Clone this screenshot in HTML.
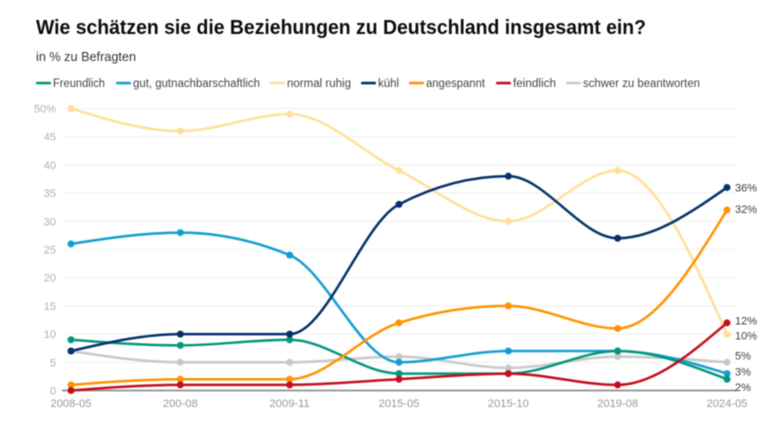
<!DOCTYPE html>
<html lang="de">
<head>
<meta charset="utf-8">
<title>Wie schätzen sie die Beziehungen zu Deutschland insgesamt ein?</title>
<style>
html,body{margin:0;padding:0;background:#fff;width:773px;height:423px;overflow:hidden}
svg{display:block;font-family:"Liberation Sans",sans-serif;filter:blur(0.4px)}
</style>
</head>
<body>
<svg id="chart" width="773" height="423" viewBox="0 0 773 423" xmlns="http://www.w3.org/2000/svg">
  <text x="36" y="34" font-size="20" font-weight="700" fill="#0a0a0a" textLength="610" lengthAdjust="spacingAndGlyphs">Wie schätzen sie die Beziehungen zu Deutschland insgesamt ein?</text>
  <text x="36" y="61" font-size="12.5" fill="#333" textLength="100" lengthAdjust="spacingAndGlyphs">in % zu Befragten</text>
  <g id="legend" font-size="11.5" fill="#444"></g>
  <g id="grid"></g>
  <g id="xaxis"></g>
  <g id="series"></g>
  <g id="labels"></g>
</svg>
<script>
const categories = ["2008-05","200-08","2009-11","2015-05","2015-10","2019-08","2024-05"];
const yTicks = [0,5,10,15,20,25,30,35,40,45,50];
const freundlich = [9,8,9,3,3,7,2];
const gut = [26,28,24,5,7,7,3];
const normalRuhig = [50,46,49,39,30,39,10];
const kuehl = [7,10,10,33,38,27,36];
const angespannt = [1,2,2,12,15,11,32];
const feindlich = [0,1,1,2,3,1,12];
const schwer = [7,5,5,6,4,6,5];

const legendOrder = [
  {name:"Freundlich", key:"freundlich", values:freundlich, color:"#05967a"},
  {name:"gut, gutnachbarschaftlich", key:"gut", values:gut, color:"#129fd0"},
  {name:"normal ruhig", key:"normal-ruhig", values:normalRuhig, color:"#ffe09a"},
  {name:"kühl", key:"kuehl", values:kuehl, color:"#06306a"},
  {name:"angespannt", key:"angespannt", values:angespannt, color:"#ff9300"},
  {name:"feindlich", key:"feindlich", values:feindlich, color:"#c40f1c"},
  {name:"schwer zu beantworten", key:"schwer", values:schwer, color:"#c8c8c8"}
];
const NS = "http://www.w3.org/2000/svg";
const X0 = 71, X1 = 727, Y0 = 390.5, Y50 = 108.5;
function xScale(i){ return X0 + (X1 - X0) * i / (categories.length - 1); }
function yScale(v){ return Y0 - (Y0 - Y50) * v / 50; }
function mk(parent, tag, attrs, text){
  const el = document.createElementNS(NS, tag);
  for (const k in attrs) el.setAttribute(k, attrs[k]);
  if (text !== undefined) el.textContent = text;
  parent.appendChild(el);
  return el;
}
/* monotone-x cubic interpolation */
function monotonePath(xs, ys){
  const n = xs.length, d = [], m = [];
  for (let i = 0; i < n - 1; i++) d[i] = (ys[i+1] - ys[i]) / (xs[i+1] - xs[i]);
  for (let i = 1; i < n - 1; i++){
    const h0 = xs[i] - xs[i-1], h1 = xs[i+1] - xs[i];
    const p = (d[i-1] * h1 + d[i] * h0) / (h0 + h1);
    m[i] = (Math.sign(d[i-1]) + Math.sign(d[i])) * Math.min(Math.abs(d[i-1]), Math.abs(d[i]), 0.5 * Math.abs(p)) || 0;
  }
  m[0] = (3 * d[0] - m[1]) / 2;
  m[n-1] = (3 * d[n-2] - m[n-2]) / 2;
  let s = "M" + xs[0] + "," + ys[0];
  for (let i = 0; i < n - 1; i++){
    const h = (xs[i+1] - xs[i]) / 3;
    s += "C" + (xs[i] + h) + "," + (ys[i] + m[i] * h) + "," + (xs[i+1] - h) + "," + (ys[i+1] - m[i+1] * h) + "," + xs[i+1] + "," + ys[i+1];
  }
  return s;
}
/* spread the crowded end labels apart */
function labelNudge(key){
  if (key === "feindlich") return -2.5;
  if (key === "normal-ruhig") return 1.6;
  if (key === "schwer") return -6.6;
  if (key === "gut") return -2;
  if (key === "freundlich") return 7.8;
  if (key === "angespannt") return -1;
  return 0;
}

/* legend */
const legendG = document.getElementById("legend");
const legendSwatchX = [36,116,270,361,409,496,566];
const legendWidths = [52,127,64,21,59,43,117];
legendOrder.forEach(function(s, i){
  const g = mk(legendG, "g", {});
  
  
  const sw = mk(g, "rect", {x:legendSwatchX[i], y:81.8, width:15, height:2.6, rx:1, fill:s.color});
  
  
  const t = mk(g, "text", {x:legendSwatchX[i] + 17, y:87, textLength:legendWidths[i], lengthAdjust:"spacingAndGlyphs"}, s.name);
  
  
});

/* grid + y ticks */
const gridG = document.getElementById("grid");
yTicks.forEach(function(v){
  if (v !== 0){
    const l = mk(gridG, "line", {x1:62, x2:736, y1:yScale(v), y2:yScale(v), stroke:"#efefef", "stroke-width":1});
    
    
  }
  const t = mk(gridG, "text", {x:56, y:yScale(v) + 4, "text-anchor":"end", "font-size":11, fill:"#b0b0b0"}, v === 50 ? "50%" : String(v));
  
  
});

/* x axis */
const xG = document.getElementById("xaxis");
const base = mk(xG, "line", {x1:62, x2:736, y1:Y0, y2:Y0, stroke:"#8f8f8f", "stroke-width":1.8});


categories.forEach(function(c, i){
  const t = mk(xG, "text", {x:xScale(i), y:407, "text-anchor":"middle", "font-size":11.2, fill:"#989898"}, c);
  
  
});

/* series, in painting order */
const seriesG = document.getElementById("series");
const labelsG = document.getElementById("labels");
const byKey = {};
legendOrder.forEach(function(s){ byKey[s.key] = s; });
["schwer","normal-ruhig","gut","freundlich","angespannt","feindlich","kuehl"].forEach(function(key){
  const s = byKey[key];
  const xs = s.values.map(function(_, i){ return xScale(i); });
  const ys = s.values.map(function(v){ return yScale(v); });
  const g = mk(seriesG, "g", {});
  
  
  const p = mk(g, "path", {d:monotonePath(xs, ys), fill:"none", stroke:s.color, "stroke-width":2.5, "stroke-linecap":"round"});
  
  
  s.values.forEach(function(v, i){
    const c = mk(g, "circle", {cx:xs[i], cy:ys[i], r:3.5, fill:s.color});
    
    
  });
  const last = s.values[s.values.length - 1];
  const t = mk(labelsG, "text", {x:735, y:yScale(last) + 4 + labelNudge(key), "font-size":11, fill:"#3c3c3c"}, last + "%");
  
  
});
</script>
</body>
</html>
